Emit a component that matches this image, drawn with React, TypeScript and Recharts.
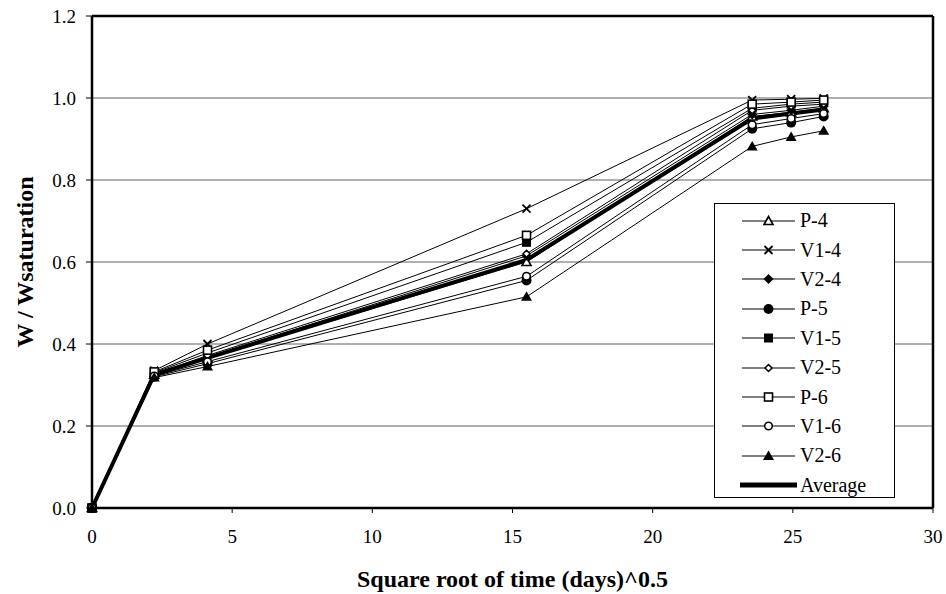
import { LineChart, Line, XAxis, YAxis, CartesianGrid, Legend, ReferenceLine } from 'recharts'

const FONT = '"Liberation Serif", "Times New Roman", serif'

// square root of time (days)^0.5
const rootTime = [0, 2.22, 4.12, 15.5, 23.55, 24.94, 26.1]

const p4   = [0, 0.325, 0.365, 0.600, 0.955, 0.965, 0.975]
const v14  = [0, 0.335, 0.400, 0.730, 0.995, 0.997, 0.999]
const v24  = [0, 0.328, 0.368, 0.615, 0.960, 0.970, 0.980]
const p5   = [0, 0.320, 0.352, 0.555, 0.925, 0.940, 0.955]
const v15  = [0, 0.330, 0.378, 0.648, 0.975, 0.985, 0.990]
const v25  = [0, 0.326, 0.372, 0.620, 0.970, 0.980, 0.985]
const p6   = [0, 0.332, 0.385, 0.665, 0.985, 0.990, 0.995]
const v16  = [0, 0.322, 0.357, 0.565, 0.935, 0.950, 0.962]
const v26  = [0, 0.318, 0.345, 0.515, 0.882, 0.905, 0.920]
const avg  = [0, 0.325, 0.366, 0.605, 0.950, 0.962, 0.972]

const xTicks = [0, 5, 10, 15, 20, 25, 30]
const yTicks = [0, 0.2, 0.4, 0.6, 0.8, 1.0, 1.2]

type Shape = 'triOpen' | 'cross' | 'diamond' | 'circle' | 'square' | 'diamondOpen' | 'squareOpen' | 'circleOpen' | 'tri'

const SERIES: { key: string; name: string; values: number[]; shape: Shape }[] = [
  { key: 'p4',  name: 'P-4',  values: p4,  shape: 'triOpen' },
  { key: 'v14', name: 'V1-4', values: v14, shape: 'cross' },
  { key: 'v24', name: 'V2-4', values: v24, shape: 'diamond' },
  { key: 'p5',  name: 'P-5',  values: p5,  shape: 'circle' },
  { key: 'v15', name: 'V1-5', values: v15, shape: 'square' },
  { key: 'v25', name: 'V2-5', values: v25, shape: 'diamondOpen' },
  { key: 'p6',  name: 'P-6',  values: p6,  shape: 'squareOpen' },
  { key: 'v16', name: 'V1-6', values: v16, shape: 'circleOpen' },
  { key: 'v26', name: 'V2-6', values: v26, shape: 'tri' },
]

const data = rootTime.map((t, i) => {
  const row: Record<string, number> = { t, avg: avg[i] }
  SERIES.forEach(s => { row[s.key] = s.values[i] })
  return row
})

function marker(shape: Shape, cx: number, cy: number, key?: string) {
  switch (shape) {
    case 'triOpen':
      return <path key={key} d={`M${cx},${cy - 4.5}L${cx + 4.5},${cy + 3.5}L${cx - 4.5},${cy + 3.5}Z`} fill="#fff" stroke="#000" strokeWidth={1.6} />
    case 'tri':
      return <path key={key} d={`M${cx},${cy - 5.5}L${cx + 5.5},${cy + 4}L${cx - 5.5},${cy + 4}Z`} fill="#000" />
    case 'cross':
      return <path key={key} d={`M${cx - 4},${cy - 4}L${cx + 4},${cy + 4}M${cx + 4},${cy - 4}L${cx - 4},${cy + 4}`} stroke="#000" strokeWidth={1.8} fill="none" />
    case 'diamond':
      return <path key={key} d={`M${cx},${cy - 5}L${cx + 5},${cy}L${cx},${cy + 5}L${cx - 5},${cy}Z`} fill="#000" />
    case 'diamondOpen':
      return <path key={key} d={`M${cx},${cy - 3.5}L${cx + 3.5},${cy}L${cx},${cy + 3.5}L${cx - 3.5},${cy}Z`} fill="#fff" stroke="#000" strokeWidth={1.5} />
    case 'circle':
      return <circle key={key} cx={cx} cy={cy} r={5} fill="#000" />
    case 'circleOpen':
      return <circle key={key} cx={cx} cy={cy} r={3.8} fill="#fff" stroke="#000" strokeWidth={1.6} />
    case 'square':
      return <rect key={key} x={cx - 4.5} y={cy - 4.5} width={9} height={9} fill="#000" />
    case 'squareOpen':
      return <rect key={key} x={cx - 4} y={cy - 4} width={8} height={8} fill="#fff" stroke="#000" strokeWidth={1.6} />
  }
}

const makeDot = (shape: Shape) => (props: any) => {
  const { cx, cy, index } = props
  if (cx == null || cy == null) return <g key={`d${index}`} />
  return marker(shape, cx, cy, `d${index}`)
}

function LegendBox() {
  return (
    <div style={{ width: 181, height: 295, border: '1px solid #000', background: '#fff', boxSizing: 'border-box', paddingTop: 2 }}>
      {SERIES.map(s => (
        <div key={s.key} style={{ display: 'flex', alignItems: 'center', height: 29.4 }}>
          <svg width={85} height={20} style={{ flex: 'none' }}>
            <line x1={27} x2={80} y1={10} y2={10} stroke="#000" strokeWidth={1} />
            {marker(s.shape, 53.5, 10)}
          </svg>
          <span style={{ fontFamily: FONT, fontSize: 20, color: '#000' }}>{s.name}</span>
        </div>
      ))}
      <div style={{ display: 'flex', alignItems: 'center', height: 29.4 }}>
        <svg width={85} height={20} style={{ flex: 'none' }}>
          <line x1={25} x2={82} y1={10} y2={10} stroke="#000" strokeWidth={5} />
        </svg>
        <span style={{ fontFamily: FONT, fontSize: 20, color: '#000' }}>Average</span>
      </div>
    </div>
  )
}

export default function App() {
  return (
    <div style={{ position: 'absolute', left: 0, top: 0, width: 946, height: 594, background: '#fff' }}>
      <LineChart width={946} height={594} data={data} margin={{ top: 16, right: 13, bottom: 46, left: 32 }}>
        <CartesianGrid vertical={false} stroke="#606060" strokeWidth={1} />
        <XAxis
          dataKey="t"
          type="number"
          domain={[0, 30]}
          ticks={xTicks}
          height={40}
          axisLine={{ stroke: '#000', strokeWidth: 2.5 }}
          tickLine={{ stroke: '#000' }}
          tickSize={5}
          tickMargin={17}
          tick={{ fill: '#000', fontFamily: FONT, fontSize: 19 }}
          label={{ value: 'Square root of time (days)^0.5', position: 'insideBottom', offset: -39, fill: '#000', fontFamily: FONT, fontSize: 24, fontWeight: 'bold' }}
        />
        <YAxis
          type="number"
          domain={[0, 1.2]}
          ticks={yTicks}
          width={60}
          axisLine={{ stroke: '#000', strokeWidth: 2.5 }}
          tickLine={{ stroke: '#000' }}
          tickSize={6}
          tickMargin={10}
          tickFormatter={(v: number) => v.toFixed(1)}
          tick={{ fill: '#000', fontFamily: FONT, fontSize: 19 }}
          label={{ value: 'W / Wsaturation', angle: -90, position: 'insideLeft', offset: -8, fill: '#000', fontFamily: FONT, fontSize: 24, fontWeight: 'bold', style: { textAnchor: 'middle' } }}
        />
        <ReferenceLine y={1.2} stroke="#000" strokeWidth={2.5} />
        <ReferenceLine x={30} stroke="#000" strokeWidth={2.5} />
        {SERIES.map(s => (
          <Line
            key={s.key}
            dataKey={s.key}
            name={s.name}
            stroke="#000"
            strokeWidth={1}
            dot={makeDot(s.shape)}
            activeDot={false}
            isAnimationActive={false}
          />
        ))}
        <Line dataKey="avg" name="Average" stroke="#000" strokeWidth={4} dot={false} activeDot={false} isAnimationActive={false} />
        <Legend
          layout="vertical"
          align="center"
          verticalAlign="middle"
          content={() => <LegendBox />}
          wrapperStyle={{ left: 714, top: 203, width: 181, height: 295 }}
        />
      </LineChart>
    </div>
  )
}
